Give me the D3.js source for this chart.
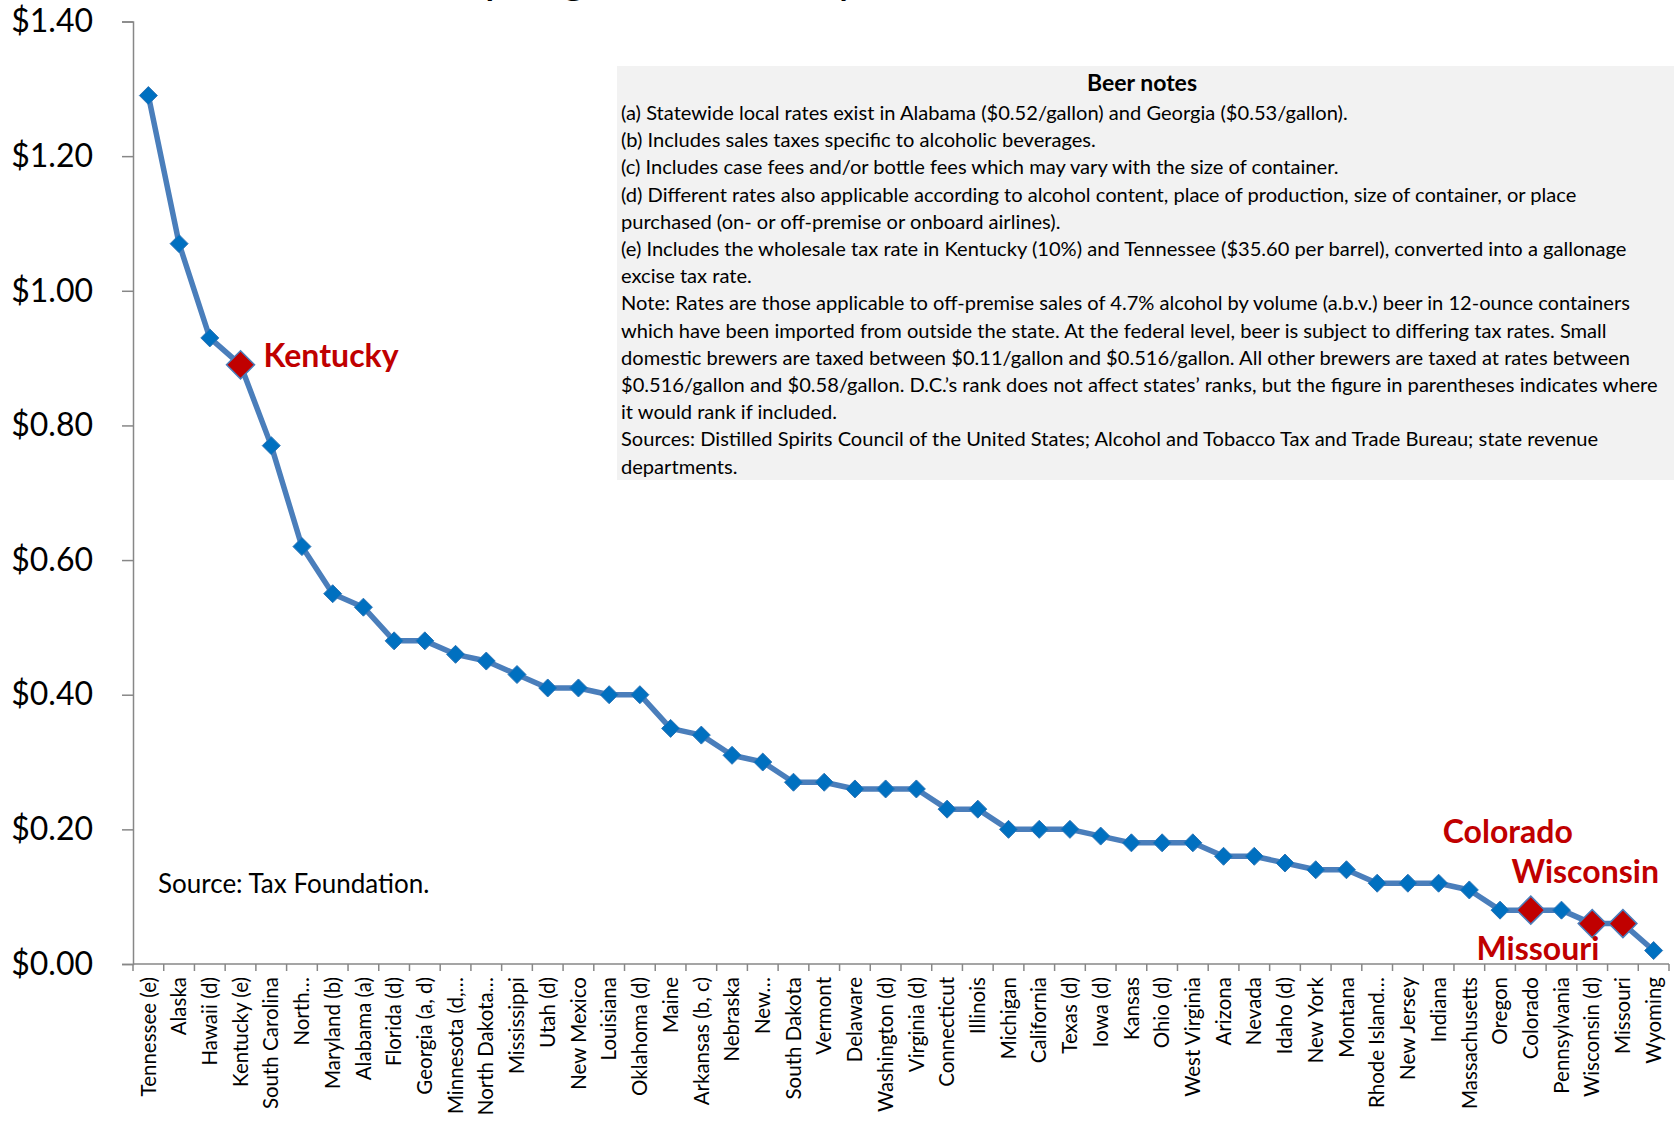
<!DOCTYPE html>
<html>
<head>
<meta charset="utf-8">
<script src="https://cdn.jsdelivr.net/npm/d3@7"></script>
<style>
  html, body { margin: 0; padding: 0; background: #fff; }
  svg { display: block; font-family: Lato, "Open Sans", sans-serif; }
</style>
</head>
<body>
<svg id="chart" width="1674" height="1121"></svg>
<script>
// State beer excise tax rates, dollars per gallon, ranked high to low
const states = [
  "Tennessee (e)", "Alaska", "Hawaii (d)", "Kentucky (e)", "South Carolina",
  "North…", "Maryland (b)", "Alabama (a)", "Florida (d)", "Georgia (a, d)",
  "Minnesota (d,…", "North Dakota…", "Mississippi", "Utah (d)", "New Mexico",
  "Louisiana", "Oklahoma (d)", "Maine", "Arkansas (b, c)", "Nebraska",
  "New…", "South Dakota", "Vermont", "Delaware", "Washington (d)",
  "Virginia (d)", "Connecticut", "Illinois", "Michigan", "California",
  "Texas (d)", "Iowa (d)", "Kansas", "Ohio (d)", "West Virginia",
  "Arizona", "Nevada", "Idaho (d)", "New York", "Montana",
  "Rhode Island…", "New Jersey", "Indiana", "Massachusetts", "Oregon",
  "Colorado", "Pennsylvania", "Wisconsin (d)", "Missouri", "Wyoming"
];
const rates = [
  1.29, 1.07, 0.93, 0.89, 0.77,
  0.62, 0.55, 0.53, 0.48, 0.48,
  0.46, 0.45, 0.43, 0.41, 0.41,
  0.40, 0.40, 0.35, 0.34, 0.31,
  0.30, 0.27, 0.27, 0.26, 0.26,
  0.26, 0.23, 0.23, 0.20, 0.20,
  0.20, 0.19, 0.18, 0.18, 0.18,
  0.16, 0.16, 0.15, 0.14, 0.14,
  0.12, 0.12, 0.12, 0.11, 0.08,
  0.08, 0.08, 0.06, 0.06, 0.02
];
const yTicks = [0, 0.2, 0.4, 0.6, 0.8, 1.0, 1.2, 1.4];

// States called out in red, with label offsets from their marker
const highlighted = ["Kentucky (e)", "Colorado", "Wisconsin (d)", "Missouri"];
const callouts = [
  { state: "Kentucky (e)",  text: "Kentucky",  anchor: "start",  dx: 23,  dy: 2 },
  { state: "Colorado",      text: "Colorado",  anchor: "middle", dx: -23, dy: -67 },
  { state: "Wisconsin (d)", text: "Wisconsin", anchor: "middle", dx: -7,  dy: -41 },
  { state: "Missouri",      text: "Missouri",  anchor: "middle", dx: -85, dy: 36 }
];

const chartTitle = "Beer Excise Tax Rates per gallon, January 1, 2019 (State Excise Tax in Dollars)";
const notesTitle = "Beer notes";
const notes = [
  "(a) Statewide local rates exist in Alabama ($0.52/gallon) and Georgia ($0.53/gallon).",
  "(b) Includes sales taxes specific to alcoholic beverages.",
  "(c) Includes case fees and/or bottle fees which may vary with the size of container.",
  "(d) Different rates also applicable according to alcohol content, place of production, size of container, or place",
  "purchased (on- or off-premise or onboard airlines).",
  "(e) Includes the wholesale tax rate in Kentucky (10%) and Tennessee ($35.60 per barrel), converted into a gallonage",
  "excise tax rate.",
  "Note: Rates are those applicable to off-premise sales of 4.7% alcohol by volume (a.b.v.) beer in 12-ounce containers",
  "which have been imported from outside the state. At the federal level, beer is subject to differing tax rates. Small",
  "domestic brewers are taxed between $0.11/gallon and $0.516/gallon. All other brewers are taxed at rates between",
  "$0.516/gallon and $0.58/gallon. D.C.\u2019s rank does not affect states\u2019 ranks, but the figure in parentheses indicates where",
  "it would rank if included.",
  "Sources: Distilled Spirits Council of the United States; Alcohol and Tobacco Tax and Trade Bureau; state revenue",
  "departments."
];
const sourceText = "Source: Tax Foundation.";

const data = states.map((s, i) => ({ state: s, rate: rates[i] }));

const svg = d3.select("#chart");
const plot = { left: 133, right: 1669, top: 21.5, bottom: 964 };
const axisColor = "#878787";

const x = d3.scaleBand().domain(states).range([plot.left, plot.right]);
const y = d3.scaleLinear().domain([0, 1.4]).range([plot.bottom, plot.top]);
const cx = d => x(d.state) + x.bandwidth() / 2;

// Title (sits mostly above the top edge of the page)
svg.append("text")
  .attr("x", 811).attr("y", -7)
  .attr("text-anchor", "middle")
  .attr("font-size", 46).attr("font-weight", 400)
  .attr("fill", "#000")
  .text(chartTitle);

// Notes panel
const notesG = svg.append("g");
notesG.append("rect")
  .attr("x", 617).attr("y", 66).attr("width", 1057).attr("height", 414)
  .attr("fill", "#f2f2f2");
notesG.append("text")
  .attr("x", 1142).attr("y", 91)
  .attr("text-anchor", "middle")
  .attr("font-size", 23).attr("font-weight", 700)
  .attr("fill", "#000")
  .text(notesTitle);
const noteLines = notesG.selectAll("text.note").data(notes).join("text")
  .attr("class", "note")
  .attr("x", 621)
  .attr("y", (d, i) => 120 + i * 27.2)
  .attr("font-size", 18)
  .attr("fill", "#000")
  .text(d => d);
// fit the widest note line into the panel
let widest = 0;
noteLines.each(function () { widest = Math.max(widest, this.getComputedTextLength()); });
noteLines.attr("font-size", 18 * 1037 / widest);

// Y axis
const yAxis = svg.append("g")
  .attr("transform", `translate(${plot.left},0)`)
  .call(d3.axisLeft(y).tickValues(yTicks).tickSize(11).tickPadding(29)
    .tickFormat(d => "$" + d.toFixed(2)));
yAxis.select(".domain").attr("stroke", axisColor).attr("stroke-width", 1.5);
yAxis.selectAll(".tick line").attr("stroke", axisColor).attr("stroke-width", 1.5);
yAxis.selectAll(".tick text")
  .attr("font-size", 32).attr("fill", "#000")
  .attr("font-family", "Lato, sans-serif");

// X axis: ticks sit on the band boundaries, labels in the band centres
const xAxis = svg.append("g");
xAxis.append("line")
  .attr("x1", plot.left).attr("x2", plot.right)
  .attr("y1", plot.bottom).attr("y2", plot.bottom)
  .attr("stroke", axisColor).attr("stroke-width", 1.5);
const bounds = states.map(s => x(s)).concat([plot.right]);
xAxis.selectAll("line.tick").data(bounds).join("line")
  .attr("class", "tick")
  .attr("x1", d => d).attr("x2", d => d)
  .attr("y1", plot.bottom).attr("y2", plot.bottom + 7)
  .attr("stroke", axisColor).attr("stroke-width", 1.5);
xAxis.selectAll("text").data(states).join("text")
  .attr("transform", d => `translate(${x(d) + x.bandwidth() / 2},${plot.bottom + 13}) rotate(-90)`)
  .attr("text-anchor", "end")
  .attr("dy", "0.35em")
  .attr("font-size", 20.5)
  .attr("fill", "#000")
  .text(d => d);

// Series line
const line = d3.line().x(cx).y(d => y(d.rate));
svg.append("path")
  .datum(data)
  .attr("d", line)
  .attr("fill", "none")
  .attr("stroke", "#4a7ebb")
  .attr("stroke-width", 5.5)
  .attr("stroke-linejoin", "round");

// Markers
const diamond = r => `M0,${-r}L${r},0L0,${r}L${-r},0Z`;
svg.selectAll("path.marker").data(data.filter(d => !highlighted.includes(d.state))).join("path")
  .attr("class", "marker")
  .attr("transform", d => `translate(${cx(d)},${y(d.rate)})`)
  .attr("d", diamond(9))
  .attr("fill", "#0070c0")
  .attr("stroke", "#2e75b6")
  .attr("stroke-width", 1);
svg.selectAll("path.hl").data(data.filter(d => highlighted.includes(d.state))).join("path")
  .attr("class", "hl")
  .attr("transform", d => `translate(${cx(d)},${y(d.rate)})`)
  .attr("d", diamond(14))
  .attr("fill", "#c00000")
  .attr("stroke", "#4a7ebb")
  .attr("stroke-width", 1.5);

// Callout labels
const byState = new Map(data.map(d => [d.state, d]));
svg.selectAll("text.callout").data(callouts).join("text")
  .attr("class", "callout")
  .attr("x", c => cx(byState.get(c.state)) + c.dx)
  .attr("y", c => y(byState.get(c.state).rate) + c.dy)
  .attr("text-anchor", c => c.anchor)
  .attr("font-size", 32).attr("font-weight", 700)
  .attr("fill", "#c00000")
  .text(c => c.text);

// Source line
svg.append("text")
  .attr("x", 158).attr("y", 893)
  .attr("font-size", 26)
  .attr("fill", "#000")
  .text(sourceText);
</script>
</body>
</html>
